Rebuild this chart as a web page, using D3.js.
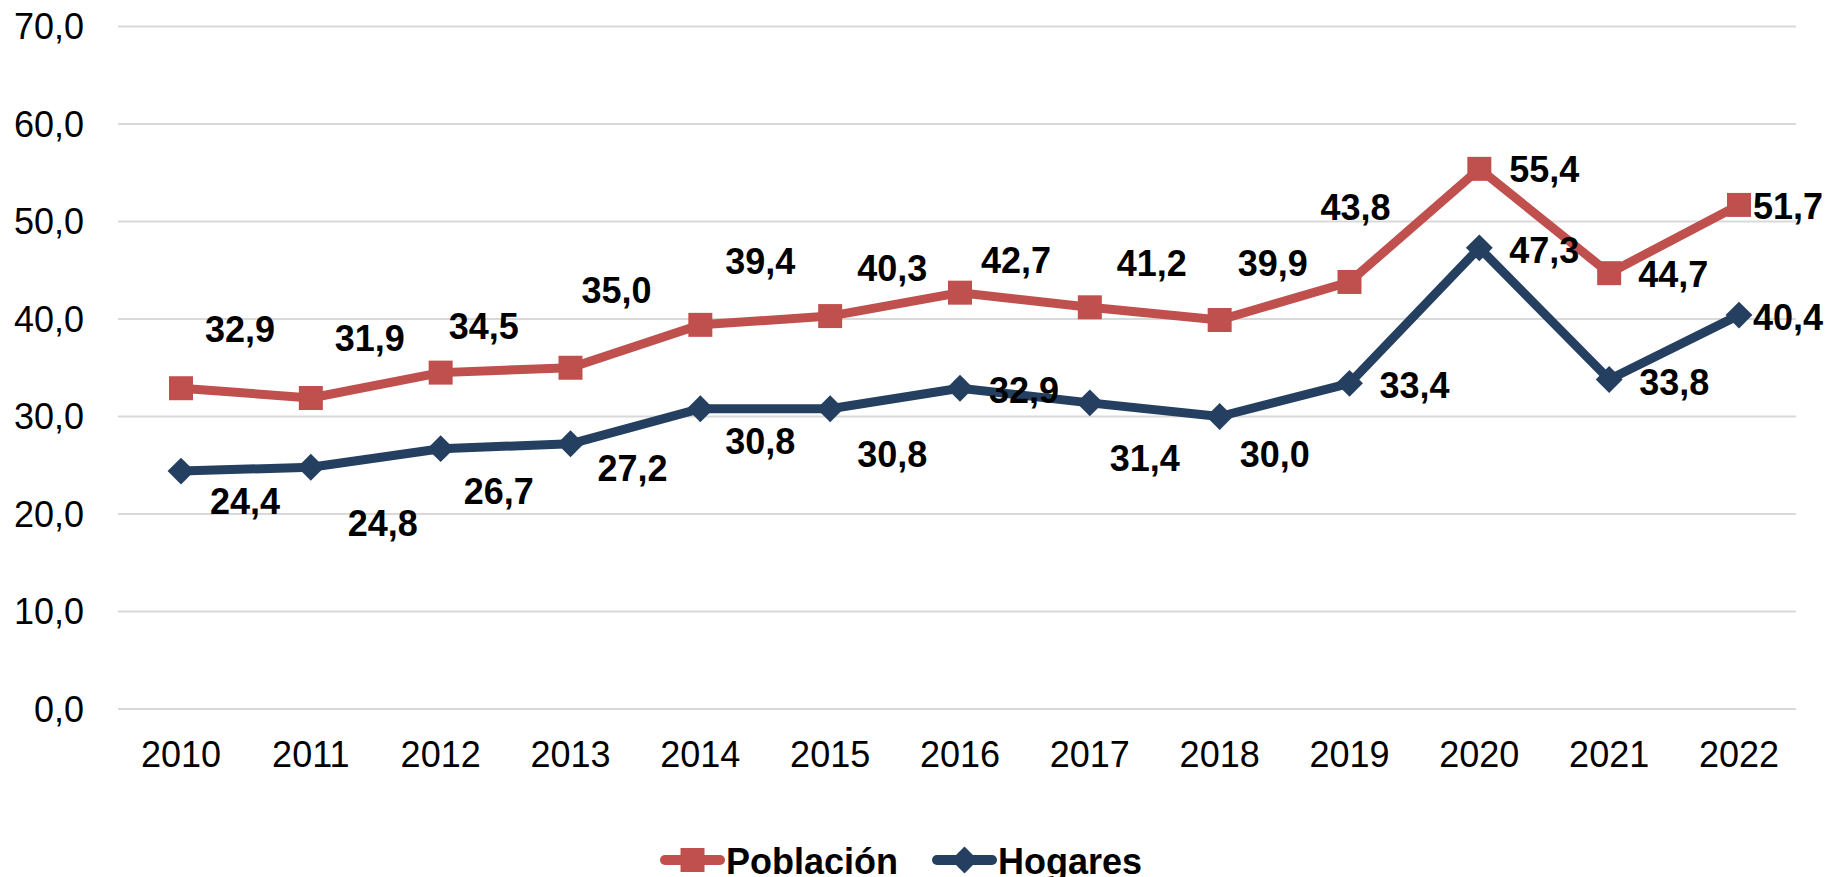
<!DOCTYPE html>
<html>
<head>
<meta charset="utf-8">
<script src="https://cdn.jsdelivr.net/npm/d3@7"></script>
<style>
  body { margin: 0; background: #fff; }
  text { font-family: Arial, "Liberation Sans", sans-serif; fill: #000; }
  .grid line { stroke: #d9d9d9; stroke-width: 2; }
  .axisLabel { font-size: 36px; }
  .dataLabel { font-size: 36px; font-weight: bold; }
  .legendLabel { font-size: 36px; font-weight: bold; }
</style>
</head>
<body>
<svg></svg>
<script>
var width = 1830;
var height = 877;

var years = ["2010","2011","2012","2013","2014","2015","2016","2017","2018","2019","2020","2021","2022"];
var poblacion = [32.9, 31.9, 34.5, 35.0, 39.4, 40.3, 42.7, 41.2, 39.9, 43.8, 55.4, 44.7, 51.7];
var hogares = [24.4, 24.8, 26.7, 27.2, 30.8, 30.8, 32.9, 31.4, 30.0, 33.4, 47.3, 33.8, 40.4];
var yTicks = [0, 10, 20, 30, 40, 50, 60, 70];

// label offsets from the marker (px), as placed in the original
var poblacionLabelOffset = [[59,-59],[59,-60],[43,-46],[46,-77],[60,-63],[62,-48],[56,-32],[62,-44],[53,-57],[6,-75],[65,1],[64,1],[49,1]];
var hogaresLabelOffset = [[64,30],[72,56],[58,43],[62,25],[60,33],[62,46],[64,2],[55,56],[55,38],[65,2],[65,3],[65,3],[49,2]];

var red = "#c0504d";
var blue = "#243f60";

var gridLeft = 118, gridRight = 1796, plotTop = 26.5, plotBottom = 709;

var svg = d3.select("svg").attr("width", width).attr("height", height);

var x = d3.scalePoint().domain(years).range([181, 1739]);
var y = d3.scaleLinear().domain([0, 70]).range([plotBottom, plotTop]);

var fmt = function(v){ return d3.format(".1f")(v).replace(".", ","); };

// gridlines
svg.append("g").attr("class", "grid")
  .selectAll("line").data(yTicks).enter()
  .append("line")
  .attr("x1", gridLeft).attr("x2", gridRight)
  .attr("y1", function(d){ return y(d); })
  .attr("y2", function(d){ return y(d); });

// y axis labels
svg.append("g").selectAll("text").data(yTicks).enter()
  .append("text")
  .attr("class", "axisLabel")
  .attr("x", 84)
  .attr("y", function(d){ return y(d); })
  .attr("dy", "0.35em")
  .attr("text-anchor", "end")
  .text(fmt);

// x axis labels
svg.append("g").selectAll("text").data(years).enter()
  .append("text")
  .attr("class", "axisLabel")
  .attr("x", function(d){ return x(d); })
  .attr("y", 767)
  .attr("text-anchor", "middle")
  .text(function(d){ return d; });

var line = d3.line()
  .x(function(d, i){ return x(years[i]); })
  .y(function(d){ return y(d); });

// square marker; the diamond is the same square turned 45 degrees
var squareSym = d3.symbol().type(d3.symbolSquare).size(24 * 24);
var diamondSym = d3.symbol().type(d3.symbolSquare).size(19 * 19);

function drawSeries(values, color, sym, rot, offsets){
  var g = svg.append("g");
  g.append("path")
    .datum(values)
    .attr("d", line)
    .attr("fill", "none")
    .attr("stroke", color)
    .attr("stroke-width", 9)
    .attr("stroke-linejoin", "round");
  g.selectAll("path.marker").data(values).enter()
    .append("path")
    .attr("class", "marker")
    .attr("d", sym)
    .attr("fill", color)
    .attr("transform", function(d, i){ return "translate(" + x(years[i]) + "," + y(d) + ") rotate(" + rot + ")"; });
  g.selectAll("text").data(values).enter()
    .append("text")
    .attr("class", "dataLabel")
    .attr("x", function(d, i){ return x(years[i]) + offsets[i][0]; })
    .attr("y", function(d, i){ return y(d) + offsets[i][1]; })
    .attr("dy", "0.35em")
    .attr("text-anchor", "middle")
    .text(fmt);
}

drawSeries(poblacion, red, squareSym, 0, poblacionLabelOffset);
drawSeries(hogares, blue, diamondSym, 45, hogaresLabelOffset);

// legend
var legend = [
  {name: "Población", color: red, sym: squareSym, rot: 0, x: 665},
  {name: "Hogares", color: blue, sym: diamondSym, rot: 45, x: 937}
];
var lg = svg.append("g").selectAll("g").data(legend).enter()
  .append("g")
  .attr("transform", function(d){ return "translate(" + d.x + ",860)"; });
lg.append("line")
  .attr("x1", 0).attr("x2", 55)
  .attr("stroke", function(d){ return d.color; })
  .attr("stroke-width", 10)
  .attr("stroke-linecap", "round");
lg.append("path")
  .attr("d", function(d){ return d.sym(); })
  .attr("fill", function(d){ return d.color; })
  .attr("transform", function(d){ return "translate(27.5,0) rotate(" + d.rot + ")"; });
lg.append("text")
  .attr("class", "legendLabel")
  .attr("x", 61)
  .attr("y", 14)
  .text(function(d){ return d.name; });
</script>
</body>
</html>
